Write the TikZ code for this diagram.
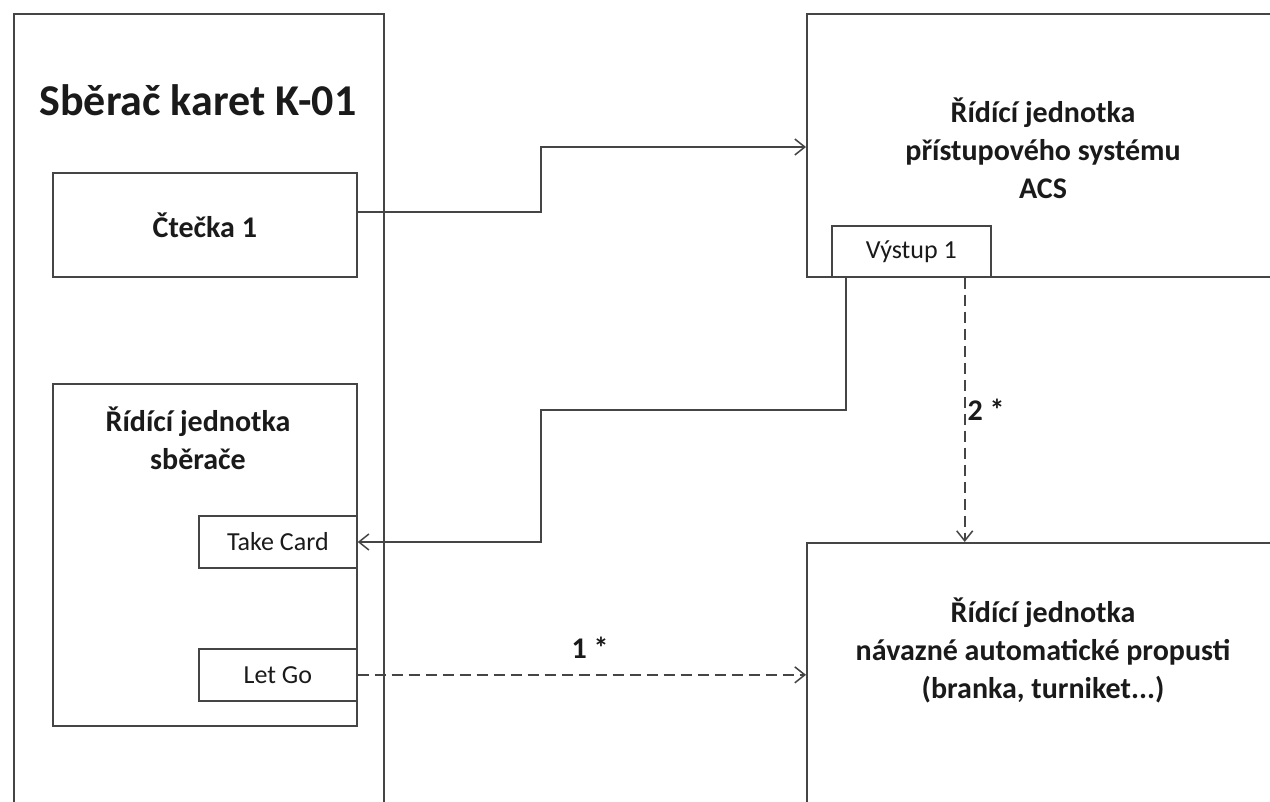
\documentclass[tikz,border=0pt]{standalone}
\usepackage{fontspec}
\setmainfont{Carlito}
\usetikzlibrary{arrows.meta}
\definecolor{linec}{HTML}{454545}
\definecolor{textc}{HTML}{1A1A1A}
\begin{document}
\begin{tikzpicture}[x=1pt,y=-1pt,
 box/.style={draw=linec, line width=1.7pt, rectangle, inner sep=0pt, fill=white, anchor=north west},
 lbl/.style={font=\fontsize{30}{38}\selectfont\bfseries, align=center, text=textc},
 small/.style={font=\fontsize{26}{30}\selectfont, text=textc},
 conn/.style={draw=linec, line width=1.6pt, -{Straight Barb[length=10pt,width=16pt,line width=1.5pt]}},
 dconn/.style={conn, dash pattern=on 11pt off 6pt}]
\useasboundingbox (0,0) rectangle (1270,802);
\clip (0,0) rectangle (1270,802);
\fill[white] (0,0) rectangle (1270,802);
% left outer box
\node[box, minimum width=370pt, minimum height=807pt] (outer) at (13,13) {};
\node[lbl, font=\fontsize{44}{50}\selectfont\bfseries] (title) at (198,100) {Sběrač karet K-01};
\node[box, minimum width=304pt, minimum height=104pt] (ctecka) at (52,172) {};
\node[lbl] (cteckat) at (ctecka.center) {Čtečka 1};
\node[box, minimum width=304pt, minimum height=342pt] (rjs) at (52,383) {};
\node[lbl] (rjst) at (198,438) {Řídící jednotka\\sběrače};
\node[box, minimum width=158pt, minimum height=52pt] (take) at (198,515) {};
\node[small] (taket) at (take.center) {Take Card};
\node[box, minimum width=158pt, minimum height=52pt] (letgo) at (198,648) {};
\node[small] (letgot) at (letgo.center) {Let Go};
% right boxes
\node[box, minimum width=474pt, minimum height=263pt] (acs) at (806,13) {};
\node[lbl] (acst) at (1043,148) {Řídící jednotka\\přístupového systému\\ACS};
\node[box, minimum width=159pt, minimum height=51pt] (vystup) at (831,225) {};
\node[small] (vystupt) at (vystup.center) {Výstup 1};
\node[box, minimum width=474pt, minimum height=278pt] (gate) at (806,542) {};
\node[lbl] (gatet) at (1043,650) {Řídící jednotka\\návazné automatické propusti\\(branka, turniket...)};
% connectors
\draw[conn] (ctecka.east |- 0,212) -- (541,212) -- (541,147) -- (acs.west |- 0,147);
\draw[conn] ([xshift=15pt]vystup.south west) -- (846,410) -- (541,410) -- (541,542) -- (take.east |- 0,542);
\draw[dconn] ([xshift=-27pt]vystup.south east) -- ([xshift=-27pt]vystup.south east |- gate.north);
\draw[dconn] (letgo.east) -- (letgo.east -| gate.west);
\node[lbl] (l2) at (986,410) {2 *};
\node[lbl] (l1) at (590,648) {1 *};
\end{tikzpicture}
\end{document}
